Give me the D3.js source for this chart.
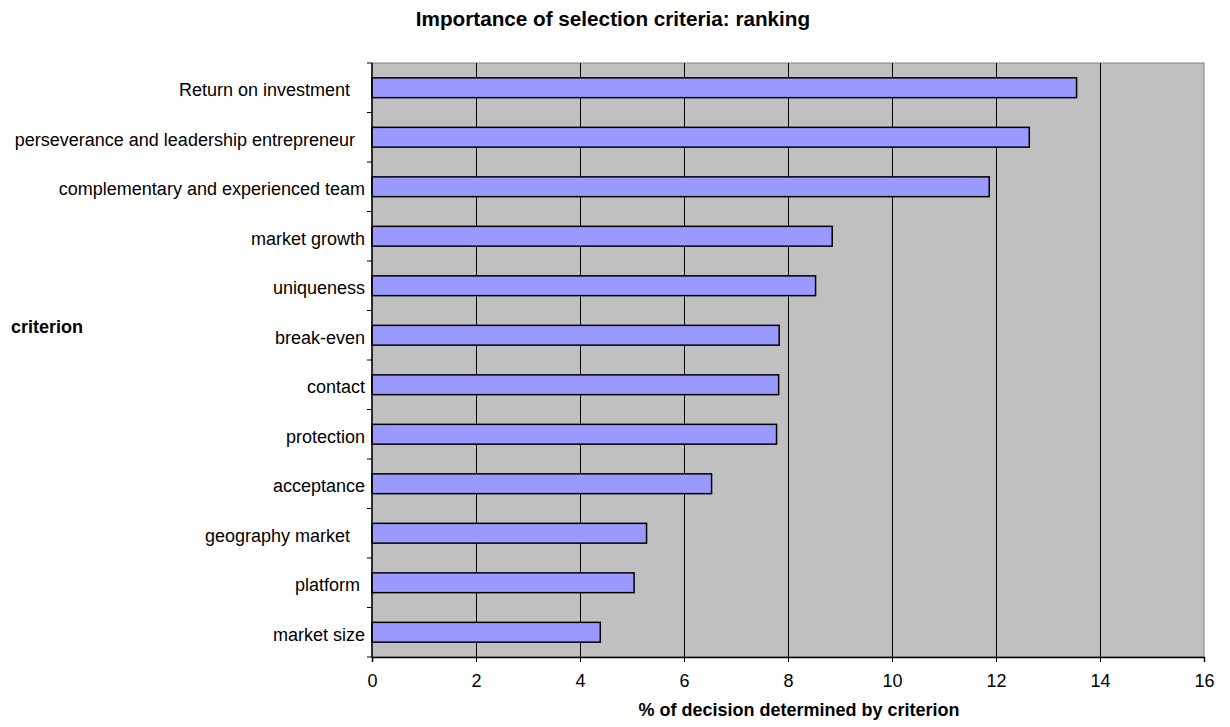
<!DOCTYPE html>
<html>
<head>
<meta charset="utf-8">
<script src="https://cdn.jsdelivr.net/npm/d3@7"></script>
<style>
  body { margin: 0; background: #fff; }
  svg text { font-family: "Liberation Sans", Arial, sans-serif; fill: #000; }
</style>
</head>
<body>
<script>
// categories, top to bottom (trailing spaces are part of the original labels)
var criteria = [
    "Return on investment   ",
    "perseverance and leadership entrepreneur  ",
    "complementary and experienced team",
    "market growth",
    "uniqueness",
    "break-even",
    "contact",
    "protection",
    "acceptance",
    "geography market   ",
    "platform ",
    "market size"
];
// % of decision determined by criterion
var shares = [13.55, 12.64, 11.87, 8.85, 8.53, 7.83, 7.82, 7.78, 6.53, 5.28, 5.04, 4.39];
var xTicks = [0, 2, 4, 6, 8, 10, 12, 14, 16];

var titleText = "Importance of selection criteria: ranking";
var xTitle = "% of decision determined by criterion";
var yTitle = "criterion";

function init(){
    var w = 1230;
    var h = 727;
    var left = 372, right = 1204, top = 63, bottom = 657;

    var data = criteria.map(function(c, i){ return {name: c, value: shares[i]}; });

    var svg = d3.select("body")
        .append("svg")
        .attr("width", w)
        .attr("height", h);

    var x = d3.scaleLinear()
        .domain([0, 16])
        .range([left, right]);

    var y = d3.scaleBand()
        .domain(criteria)
        .range([top, bottom])
        .paddingInner(0.6)
        .paddingOuter(0.3);

    // plot background
    svg.append("rect")
        .attr("x", left)
        .attr("y", top)
        .attr("width", right - left)
        .attr("height", bottom - top)
        .attr("fill", "#c0c0c0")
        .attr("stroke", "#808080")
        .attr("stroke-width", 1);

    // vertical gridlines
    svg.selectAll("line.grid")
        .data(xTicks.slice(1, -1))
        .enter()
        .append("line")
        .attr("class", "grid")
        .attr("x1", function(d){ return Math.round(x(d)) + 0.5; })
        .attr("x2", function(d){ return Math.round(x(d)) + 0.5; })
        .attr("y1", top)
        .attr("y2", bottom)
        .attr("stroke", "#000")
        .attr("stroke-width", 1);

    // bars
    svg.selectAll("rect.bar")
        .data(data)
        .enter()
        .append("rect")
        .attr("class", "bar")
        .attr("x", x(0))
        .attr("y", function(d){ return y(d.name); })
        .attr("width", function(d){ return x(d.value) - x(0); })
        .attr("height", y.bandwidth())
        .attr("fill", "#9999ff")
        .attr("stroke", "#000")
        .attr("stroke-width", 1.5);

    // x axis (bottom)
    var xAxis = d3.axisBottom(x)
        .tickValues(xTicks)
        .tickSize(5)
        .tickPadding(12);
    var gx = svg.append("g")
        .attr("transform", "translate(0," + bottom + ")")
        .call(xAxis);
    gx.select(".domain").attr("stroke", "#000").attr("stroke-width", 1.5);
    gx.selectAll(".tick line").attr("stroke", "#000");
    gx.selectAll(".tick text")
        .attr("font-size", "18px")
        .attr("font-family", "Liberation Sans, Arial, sans-serif");

    // y axis line and ticks at band boundaries
    svg.append("line")
        .attr("x1", left).attr("x2", left)
        .attr("y1", top).attr("y2", bottom)
        .attr("stroke", "#000")
        .attr("stroke-width", 1.5);
    var bounds = criteria.map(function(c){ return y(c) - y.step() * y.paddingInner() / 2; });
    bounds.push(bottom);
    svg.selectAll("line.ytick")
        .data(bounds)
        .enter()
        .append("line")
        .attr("class", "ytick")
        .attr("x1", left - 5).attr("x2", left)
        .attr("y1", function(d){ return d; })
        .attr("y2", function(d){ return d; })
        .attr("stroke", "#000");

    // category labels
    svg.selectAll("text.cat")
        .data(data)
        .enter()
        .append("text")
        .attr("class", "cat")
        .attr("x", left - 7)
        .attr("y", function(d){ return y(d.name) + y.bandwidth() / 2 + 8.5; })
        .attr("text-anchor", "end")
        .attr("font-size", "18px")
        .style("white-space", "pre")
        .text(function(d){ return d.name; });

    // titles
    svg.append("text")
        .attr("x", w / 2 - 2)
        .attr("y", 26)
        .attr("text-anchor", "middle")
        .attr("font-size", "20.7px")
        .attr("font-weight", "bold")
        .text(titleText);

    svg.append("text")
        .attr("x", 799)
        .attr("y", 716)
        .attr("text-anchor", "middle")
        .attr("font-size", "18px")
        .attr("font-weight", "bold")
        .text(xTitle);

    svg.append("text")
        .attr("x", 11)
        .attr("y", 333)
        .attr("font-size", "18px")
        .attr("font-weight", "bold")
        .text(yTitle);
}

window.onload = init;
</script>
</body>
</html>
